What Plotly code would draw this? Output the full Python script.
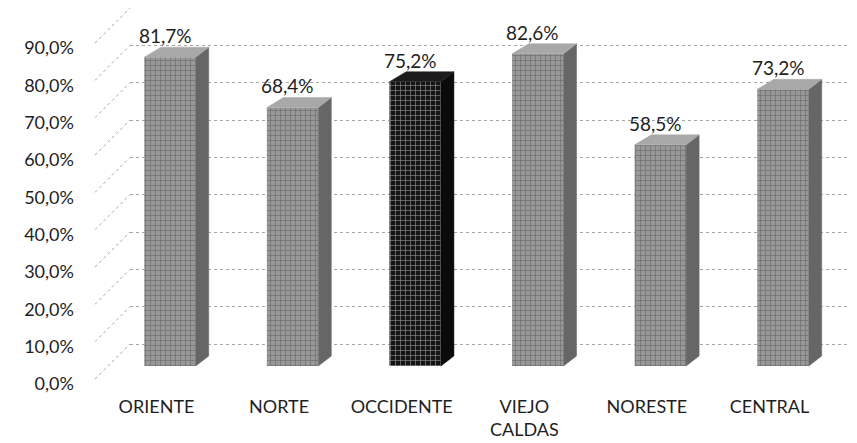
import plotly.graph_objects as go

# ---------------- data ----------------
categories = ["ORIENTE", "NORTE", "OCCIDENTE", "VIEJO<br>CALDAS", "NORESTE", "CENTRAL"]
values = [81.7, 68.4, 75.2, 82.6, 58.5, 73.2]
value_labels = ["81,7%", "68,4%", "75,2%", "82,6%", "58,5%", "73,2%"]
highlight = "OCCIDENTE"
tick_values = [0, 10, 20, 30, 40, 50, 60, 70, 80, 90]
tick_labels = ["0,0%", "10,0%", "20,0%", "30,0%", "40,0%", "50,0%",
               "60,0%", "70,0%", "80,0%", "90,0%"]

# ---------------- geometry / style ----------------
OX, OY = 8, 8            # page body margin
FW, FH = 849, 435        # figure size so that it fills the 857x443 window
FONT = "Lato, Carlito, Calibri, sans-serif"
TXT = "#1e1e1e"
GRID = "#a6a6a6"
CLEAR = "rgba(0,0,0,0)"

HALF = 0.21      # half width of the front face (category units)
DX = 0.106       # depth shift to the right (category units)
DY = 2.65        # depth shift upwards (value units)
CAT0, CATW = 170, 122.6   # screen px of first category centre, spacing


def px(xs):   # screen x -> paper
    return (xs - OX) / FW


def py(ys):   # screen y -> paper
    return 1 - (ys - OY) / FH


def yrng(y0, scale):   # value axis: value 0 at screen y0, scale px/unit
    return [(y0 - (OY + FH)) / scale, (y0 - OY) / scale]


def xrng(shift=0.0):
    return [(OX - CAT0) / CATW + shift, (OX + FW - CAT0) / CATW + shift]


def front_py(v):
    return 383 - 3.733 * v


def back_py(v):
    return 344 - 3.733 * v


fig = go.Figure()

# dummy trace so the back-wall subplot exists
fig.add_trace(go.Scatter(x=[None], y=[None], xaxis="x", yaxis="y",
                         showlegend=False, hoverinfo="skip"))

x_idx = list(range(len(categories)))
for i, (cat, v) in enumerate(zip(categories, values)):
    dark = cat == highlight
    side_col = "#0a0a0a" if dark else "#666666"
    top_col = "#1c1c1c" if dark else "#a8a8a8"
    # side face
    fig.add_trace(go.Scatter(
        x=[i + HALF, i + HALF + DX, i + HALF + DX, i + HALF, i + HALF],
        y=[0, DY, v + DY, v, 0],
        fill="toself", fillcolor=side_col, mode="lines",
        line=dict(color=side_col, width=0.5),
        xaxis="x2", yaxis="y2", showlegend=False, hoverinfo="skip"))
    # top face
    fig.add_trace(go.Scatter(
        x=[i - HALF, i + HALF, i + HALF + DX, i - HALF + DX + 0.03, i - HALF],
        y=[v, v, v + DY, v + DY, v],
        fill="toself", fillcolor=top_col, mode="lines",
        line=dict(color=top_col, width=0.5),
        xaxis="x2", yaxis="y2", showlegend=False, hoverinfo="skip"))

bar_colors = ["#141414" if c == highlight else "#989898" for c in categories]
pat_fg = ["#3c3c3c" if c == highlight else "#e0e0e0" for c in categories]
fig.add_trace(go.Bar(
    x=x_idx, y=values, width=2 * HALF,
    marker=dict(color=bar_colors, line=dict(width=0),
                pattern=dict(shape="+", fgcolor=pat_fg, size=5, solidity=0.25)),
    xaxis="x2", yaxis="y2", showlegend=False, hoverinfo="skip"))

fig.add_trace(go.Scatter(x=[None], y=[None], xaxis="x3", yaxis="y3",
                         showlegend=False, hoverinfo="skip"))

# value labels
for i, (v, lab) in enumerate(zip(values, value_labels)):
    fig.add_annotation(x=i, y=v + DY, xref="x2", yref="y2", text=lab,
                       showarrow=False, yanchor="bottom", xshift=-5, yshift=-2,
                       font=dict(family=FONT, size=19, color=TXT))

# side-wall diagonal grid lines
for t in tick_values:
    fig.add_shape(type="line", xref="paper", yref="paper", layer="below",
                  x0=px(95), y0=py(front_py(t) - 4),
                  x1=px(130), y1=py(back_py(t)),
                  line=dict(color=GRID, width=1, dash="dot"))

axis_off = dict(showgrid=False, zeroline=False, showline=False,
                showticklabels=False, ticks="")

fig.update_layout(
    width=FW, height=FH, autosize=False,
    margin=dict(l=0, r=0, t=0, b=0),
    paper_bgcolor="white", plot_bgcolor=CLEAR,
    barmode="overlay",
    # back wall grid
    xaxis=dict(domain=[px(130), 1], range=[0, 1], anchor="y", **axis_off),
    yaxis=dict(domain=[0, 1], range=yrng(344, 3.733), anchor="x",
               tickvals=tick_values, showgrid=True, gridcolor=GRID,
               griddash="dot", gridwidth=1, zeroline=False, showline=False,
               showticklabels=False, ticks=""),
    # bars
    xaxis2=dict(domain=[0, 1], range=xrng(), anchor="y2", **axis_off),
    yaxis2=dict(domain=[0, 1], range=yrng(366, 3.78), anchor="x2", **axis_off),
    # front labels
    xaxis3=dict(domain=[0, 1], range=xrng(0.11),
                anchor="free", position=py(394),
                tickvals=x_idx, ticktext=categories, showgrid=False,
                zeroline=False, showline=False, ticks="",
                tickfont=dict(family=FONT, size=18, color=TXT)),
    yaxis3=dict(domain=[0, 1], range=yrng(384, 3.733), anchor="free",
                position=px(74), tickvals=tick_values, ticktext=tick_labels,
                showgrid=False, zeroline=False, showline=False, ticks="",
                tickfont=dict(family=FONT, size=18, color=TXT)),
)

fig.write_html("out.html")
